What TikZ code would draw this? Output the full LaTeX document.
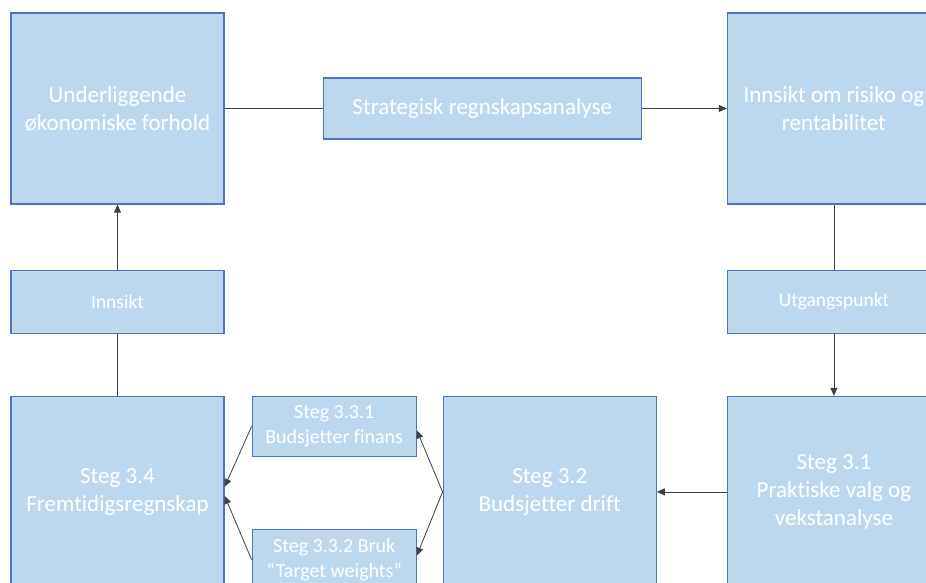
\documentclass[tikz,border=0pt]{standalone}
\usepackage{fontspec}
\setmainfont{Carlito}[Ligatures=NoCommon]
\usepackage{xcolor}
\usepackage{tikz}
\usetikzlibrary{arrows.meta, positioning}
\definecolor{boxblue}{HTML}{BDD7EE}
\definecolor{edgeblue}{HTML}{4F74BD}
\definecolor{linegray}{HTML}{404040}
\tikzstyle{bigbox} = [rectangle, minimum width=213pt, minimum height=191pt, inner sep=0pt,
  align=center, draw=edgeblue, fill=boxblue, text=white, font=\fontsize{23}{28}\selectfont, line width=1.2pt]
\tikzstyle{widebox} = [rectangle, minimum width=318pt, minimum height=61pt, inner sep=0pt,
  align=center, draw=edgeblue, fill=boxblue, text=white, font=\fontsize{23}{28}\selectfont, line width=1.2pt]
\tikzstyle{labelbox} = [rectangle, minimum width=213pt, minimum height=63pt, inner sep=0pt,
  align=center, draw=edgeblue, fill=boxblue, text=white, font=\fontsize{19.5}{22}\selectfont, line width=1.2pt]
\tikzstyle{substepbox} = [rectangle, minimum width=164pt, minimum height=60pt, inner sep=0pt,
  align=center, draw=edgeblue, fill=boxblue, text=white, font=\fontsize{20}{25}\selectfont, line width=1.2pt]
\tikzstyle{link} = [draw=linegray, line width=0.8pt]
\tikzstyle{arrow} = [draw=linegray, line width=0.8pt, -{Triangle[length=8pt, width=7pt]}]

\begin{document}
\begin{tikzpicture}[x=1pt, y=-1pt]
  \useasboundingbox (0,0) rectangle (926,582);
  \clip (0,0) rectangle (926,582);

  \node (under)  [bigbox] at (117.5,108.5) {Underliggende\\økonomiske forhold};
  \node (strat)  [widebox, right=98pt of under] {Strategisk regnskapsanalyse};
  \node (risk)   [bigbox, right=85pt of strat] {Innsikt om risiko og\\rentabilitet};
  \node (insight)[labelbox, below=65pt of under] {Innsikt};
  \node (start)  [labelbox, below=65pt of risk] {Utgangspunkt};
  \node (s34)    [bigbox, below=62pt of insight] {Steg 3.4\\Fremtidigsregnskap};
  \node (s31)    [bigbox, below=62pt of start] {Steg 3.1\\Praktiske valg og\\vekstanalyse};
  \node (s32)    [bigbox, left=70pt of s31] {Steg 3.2\\Budsjetter drift};
  \node (s331)   [substepbox, right=27pt of s34.north east, anchor=north west] {Steg 3.3.1\\Budsjetter finans};
  \node (s332)   [substepbox, below=72pt of s331] {Steg 3.3.2 Bruk\\“Target weights”};

  \draw[link]  (under)--(strat);
  \draw[arrow] (strat)--(risk);
  \draw[link]  (risk)--(start);
  \draw[arrow] (start)--(s31);
  \draw[arrow] (s31)--(s32);
  \draw[arrow] (s32.west)--([yshift=-4pt]s331.east);
  \draw[arrow] (s32.west)--([yshift=4pt]s332.east);
  \draw[arrow] (s331.west)--([yshift=5pt]s34.east);
  \draw[arrow] (s332.west)--([yshift=-4pt]s34.east);
  \draw[link]  (s34)--(insight);
  \draw[arrow] (insight)--(under);
\end{tikzpicture}
\end{document}
